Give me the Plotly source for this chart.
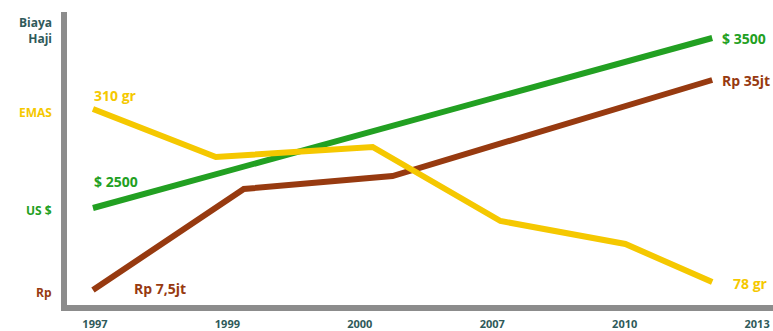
import plotly.graph_objects as go

# Categories (x tick labels) at evenly spaced positions
years = ["1997", "1999", "2000", "2007", "2010", "2013"]

# Schematic series (x in category-index units, y in relative units)
green_x = [-0.015, 4.661]
green_y = [97, 267]

brown_x = [-0.015, 1.124, 2.247, 4.661]
brown_y = [15, 116, 129, 225]

yellow_x = [-0.015, 0.913, 2.097, 3.062, 4.005, 4.661]
yellow_y = [196, 148, 158, 84, 61, 23]

GREEN = "#22a022"
BROWN = "#973a10"
YELLOW = "#f5c800"
TEAL = "#2f5a5a"

fig = go.Figure()
for xs, ys, c in [(green_x, green_y, GREEN), (brown_x, brown_y, BROWN), (yellow_x, yellow_y, YELLOW)]:
    fig.add_trace(go.Scatter(x=xs, y=ys, mode="lines",
                             line=dict(color=c, width=6), hoverinfo="skip", showlegend=False))

font = dict(family="Open Sans", size=14)

# y-axis category labels (left)
ylabels = [("Biaya<br>Haji", 275, TEAL), ("EMAS", 193, YELLOW), ("US $", 95, GREEN), ("Rp", 13, BROWN)]
anns = []
for t, y, c in ylabels:
    anns.append(dict(x=-0.018, y=y, xref="paper", yref="y", text=f"<b>{t}</b>", showarrow=False,
                     xanchor="right", yanchor="middle", align="right",
                     font=dict(family="Open Sans", size=12, color=c)))

# value annotations
vals = [("310 gr", -0.02, 210, YELLOW),
        ("$ 2500", -0.02, 124, GREEN),
        ("Rp 7,5jt", 0.28, 17, BROWN),
        ("$ 3500", 4.72, 267, GREEN),
        ("Rp 35jt", 4.72, 225, BROWN),
        ("78 gr", 4.80, 22, YELLOW)]
for t, x, y, c in vals:
    anns.append(dict(x=x, y=y, xref="x", yref="y", text=f"<b>{t}</b>", showarrow=False,
                     xanchor="left", yanchor="middle", font=dict(font, color=c)))

fig.update_layout(
    width=773, height=331,
    margin=dict(l=67, r=0, t=12, b=26),
    paper_bgcolor="white", plot_bgcolor="white",
    annotations=anns,
    xaxis=dict(range=[-0.211, 5.12], tickmode="array", tickvals=list(range(len(years))),
               ticktext=[f"<b>{y}</b>" for y in years], showgrid=False, zeroline=False,
               showline=True, linecolor="#8c8c8c", linewidth=6,
               tickfont=dict(family="Open Sans", size=11, color=TEAL), ticks="", ticklabelstandoff=4),
    yaxis=dict(range=[0, 293], showgrid=False, zeroline=False, showticklabels=False,
               showline=True, linecolor="#8c8c8c", linewidth=6, ticks=""),
)

fig.write_html("out.html")
